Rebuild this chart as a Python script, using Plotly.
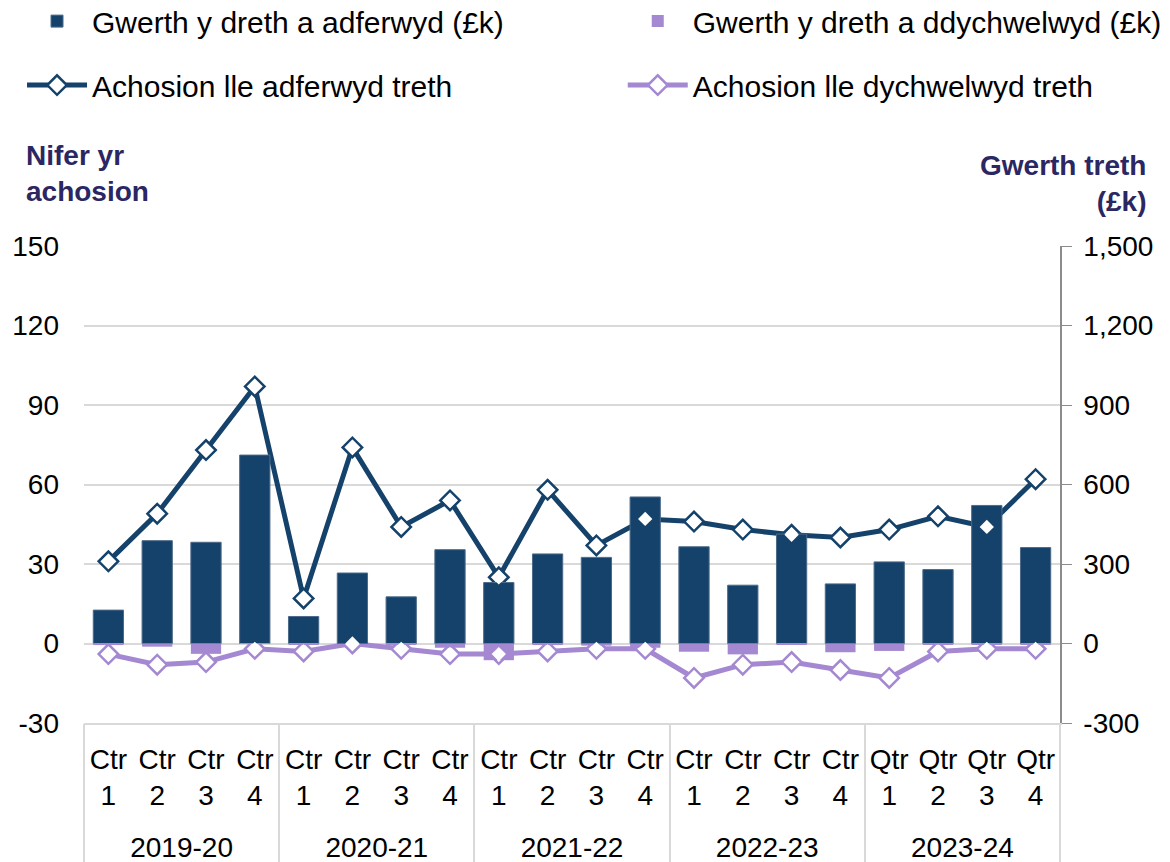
import plotly.graph_objects as go

years = ["2019-20", "2020-21", "2021-22", "2022-23", "2023-24"]
quarter_labels = (["Ctr<br>1", "Ctr<br>2", "Ctr<br>3", "Ctr<br>4"] * 4
                  + ["Qtr<br>1", "Qtr<br>2", "Qtr<br>3", "Qtr<br>4"])
categories = [f"{y} Q{q}" for y in years for q in range(1, 5)]

# Value of tax recovered / refunded (£k) - right axis
value_recovered = [126, 388, 382, 711, 102, 266, 176, 354, 230, 338,
                   325, 553, 365, 220, 413, 225, 308, 279, 521, 362]
value_refunded = [-6, -12, -39, -1, -5, 0, -3, -16, -63, -6,
                  -8, -16, -31, -41, -3, -33, -28, -5, -3, -3]

# Number of cases - left axis
cases_recovered = [31, 49, 73, 97, 17, 74, 44, 54, 25, 58,
                   37, 47, 46, 43, 41, 40, 43, 48, 44, 62]
cases_refunded = [-4, -8, -7, -2, -3, 0, -2, -4, -4, -3,
                  -2, -2, -13, -8, -7, -10, -13, -3, -2, -2]

left_ticks = [-30, 0, 30, 60, 90, 120, 150]
left_ticktext = ["-30", "0", "30", "60", "90", "120", "150"]
right_ticks = [-300, 0, 300, 600, 900, 1200, 1500]
right_ticktext = ["-300", "0", "300", "600", "900", "1,200", "1,500"]

year_centres = [1.5, 5.5, 9.5, 13.5, 17.5]
year_dividers = [-0.5, 3.5, 7.5, 11.5, 15.5, 19.5]

NAVY = "#15426a"
PURPLE = "#a488d1"
TITLE_COL = "#2b2762"
GRID = "#d9d9d9"
FONT = "Liberation Sans, Arial, sans-serif"

fig = go.Figure()
fig.add_trace(go.Bar(x=categories, y=value_recovered, name="Gwerth y dreth a adferwyd (£k)",
                     marker=dict(color=NAVY, line=dict(color="#4d6a88", width=1)),
                     yaxis="y2", width=0.62, legend="legend", legendgroup="a"))
fig.add_trace(go.Bar(x=categories, y=value_refunded, name="Gwerth y dreth a ddychwelwyd (£k)",
                     marker=dict(color=PURPLE, line=dict(width=0)),
                     yaxis="y2", width=0.62, legend="legend2", legendgroup="b"))
fig.add_trace(go.Scatter(x=categories, y=cases_recovered, name="Achosion lle adferwyd treth",
                         mode="lines+markers",
                         line=dict(color=NAVY, width=5),
                         marker=dict(symbol="diamond", size=15, color="white",
                                     line=dict(color=NAVY, width=2.5)),
                         yaxis="y", legend="legend", legendgroup="c"))
fig.add_trace(go.Scatter(x=categories, y=cases_refunded, name="Achosion lle dychwelwyd treth",
                         mode="lines+markers",
                         line=dict(color=PURPLE, width=5),
                         marker=dict(symbol="diamond", size=15, color="white",
                                     line=dict(color=PURPLE, width=2.5)),
                         yaxis="y", legend="legend2", legendgroup="d"))
# white marker centres that show through the bars (right axis is exactly 10x the left);
# drawn on the year-level x axis (same positions as the categories)
positions = list(range(len(categories)))
for series in (cases_recovered, cases_refunded):
    fig.add_trace(go.Scatter(x=positions, y=[v * 10 for v in series], mode="markers",
                             marker=dict(symbol="diamond", size=11, color="white",
                                         line=dict(width=0)),
                             xaxis="x2", yaxis="y2", showlegend=False, hoverinfo="skip"))

legend_common = dict(orientation="v", yanchor="top", xanchor="left", itemwidth=60,
                     font=dict(family=FONT, size=30, color="black"),
                     traceorder="grouped", tracegroupgap=22, bgcolor="rgba(0,0,0,0)")

fig.update_layout(
    width=1170, height=862,
    margin=dict(l=84, r=110, t=246, b=139, autoexpand=False),
    paper_bgcolor="white", plot_bgcolor="white",
    font=dict(family=FONT, size=28, color="black"),
    barmode="relative",
    showlegend=True,
    legend=dict(x=-0.0635, y=1.526, **legend_common),
    legend2=dict(x=0.552, y=1.526, **legend_common),
    xaxis=dict(type="category", range=[-0.5, 19.5], tickmode="array",
               tickvals=categories, ticktext=quarter_labels,
               showgrid=False, showline=True, linecolor=GRID, linewidth=2,
               ticks="", ticklabelstandoff=10, zeroline=False,
               tickfont=dict(family=FONT, size=28, color="black")),
    xaxis2=dict(overlaying="x", anchor="y2", side="bottom", type="linear",
                range=[-0.5, 19.5], tickmode="array", tickvals=year_centres,
                ticktext=years, showgrid=False, showline=False, zeroline=False,
                ticks="", ticklabelstandoff=105,
                minor=dict(tickmode="array", tickvals=year_dividers, ticks="outside",
                           ticklen=139, tickcolor=GRID, tickwidth=2, showgrid=False),
                tickfont=dict(family=FONT, size=28, color="black")),
    yaxis=dict(range=[-30, 150], tickmode="array", tickvals=left_ticks,
               ticktext=left_ticktext, showgrid=True,
               gridcolor=GRID, gridwidth=2, zeroline=True,
               zerolinecolor=GRID, zerolinewidth=2, showline=False,
               ticks="", ticklabelstandoff=24,
               tickfont=dict(family=FONT, size=28, color="black")),
    yaxis2=dict(range=[-300, 1500], tickmode="array", tickvals=right_ticks,
                ticktext=right_ticktext, overlaying="y", side="right",
                showgrid=False, zeroline=False, showline=True, linecolor="#8c8c8c",
                linewidth=1.5, ticks="outside", ticklen=10, tickcolor="#8c8c8c",
                ticklabelstandoff=6,
                tickfont=dict(family=FONT, size=28, color="black")),
    annotations=[
        dict(text="<b>Nifer yr<br>achosion</b>", xref="paper", yref="paper",
             x=-0.061, y=1.226, xanchor="left", yanchor="top", align="left",
             showarrow=False, font=dict(family=FONT, size=28, color=TITLE_COL)),
        dict(text="<b>Gwerth treth<br>(£k)</b>", xref="paper", yref="paper",
             x=1.09, y=1.205, xanchor="right", yanchor="top", align="right",
             showarrow=False, font=dict(family=FONT, size=28, color=TITLE_COL)),
    ],
)

# remove the page's default 8px body margin so the figure fills the window exactly
fig.write_html("out.html", config={"displayModeBar": False},
               post_script="document.body.style.margin='0';document.body.style.overflow='hidden';")
